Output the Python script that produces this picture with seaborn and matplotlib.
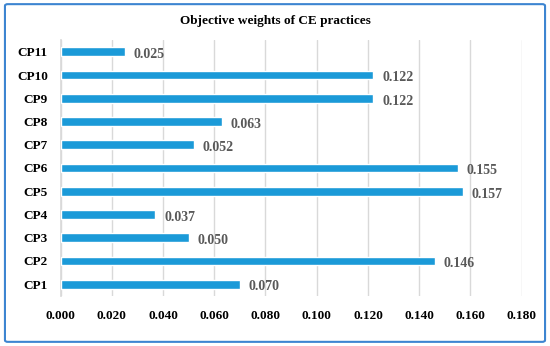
import numpy as np
import pandas as pd
import matplotlib.pyplot as plt
import seaborn as sns
from matplotlib.patches import FancyBboxPatch

categories = ["CP11", "CP10", "CP9", "CP8", "CP7", "CP6", "CP5", "CP4", "CP3", "CP2", "CP1"]
weights = [0.025, 0.122, 0.122, 0.063, 0.052, 0.155, 0.157, 0.037, 0.050, 0.146, 0.070]
ticks = [0.000, 0.020, 0.040, 0.060, 0.080, 0.100, 0.120, 0.140, 0.160, 0.180]

df = pd.DataFrame({"practice": categories, "weight": weights})

sns.set_theme(style="white")
plt.rcParams["font.family"] = ["Liberation Serif", "DejaVu Serif"]

fig = plt.figure(figsize=(5.5, 3.46), dpi=100)
ax = fig.add_axes([0.110, 0.145, 0.8385, 0.739])

sns.barplot(data=df, x="weight", y="practice", color="#1b9ad8", saturation=1,
            width=0.38, ax=ax, zorder=3)

ax.set_xlim(0, 0.18)
ax.set_ylim(len(categories) - 0.5, -0.5)
ax.set_xticks(ticks)
ax.set_xticklabels(["{0:.3f}".format(t) for t in ticks], fontsize=9.5, fontweight="bold", color="black")
ax.set_yticklabels(categories, fontsize=9.5, fontweight="bold", color="black")
ax.tick_params(axis="x", length=0, pad=10)
ax.tick_params(axis="y", length=0, pad=9)
ax.xaxis.grid(True, color="#d9d9d9", linewidth=1, zorder=0)
ax.yaxis.grid(False)
for s in ["top", "right", "bottom"]:
    ax.spines[s].set_visible(False)
ax.spines["left"].set_color("#d9d9d9")
ax.set_xlabel("")
ax.set_ylabel("")

# value labels
for i, v in enumerate(weights):
    ax.text(v + 0.0035, i + 0.12, "{0:.3f}".format(v), va="center", ha="left",
            fontsize=10, fontweight="bold", color="#595959")

fig.text(0.5, 0.938, "Objective weights of CE practices", ha="center", va="center",
         fontsize=9.5, fontweight="bold", color="black")

# blue border around the chart
border = FancyBboxPatch((0.009, 0.012), 0.982, 0.976, boxstyle="round,pad=0,rounding_size=0.005",
                        transform=fig.transFigure, fill=False, edgecolor="#3d85d1", linewidth=1.5)
fig.patches.append(border)

plt.savefig("out.png", dpi=100)
